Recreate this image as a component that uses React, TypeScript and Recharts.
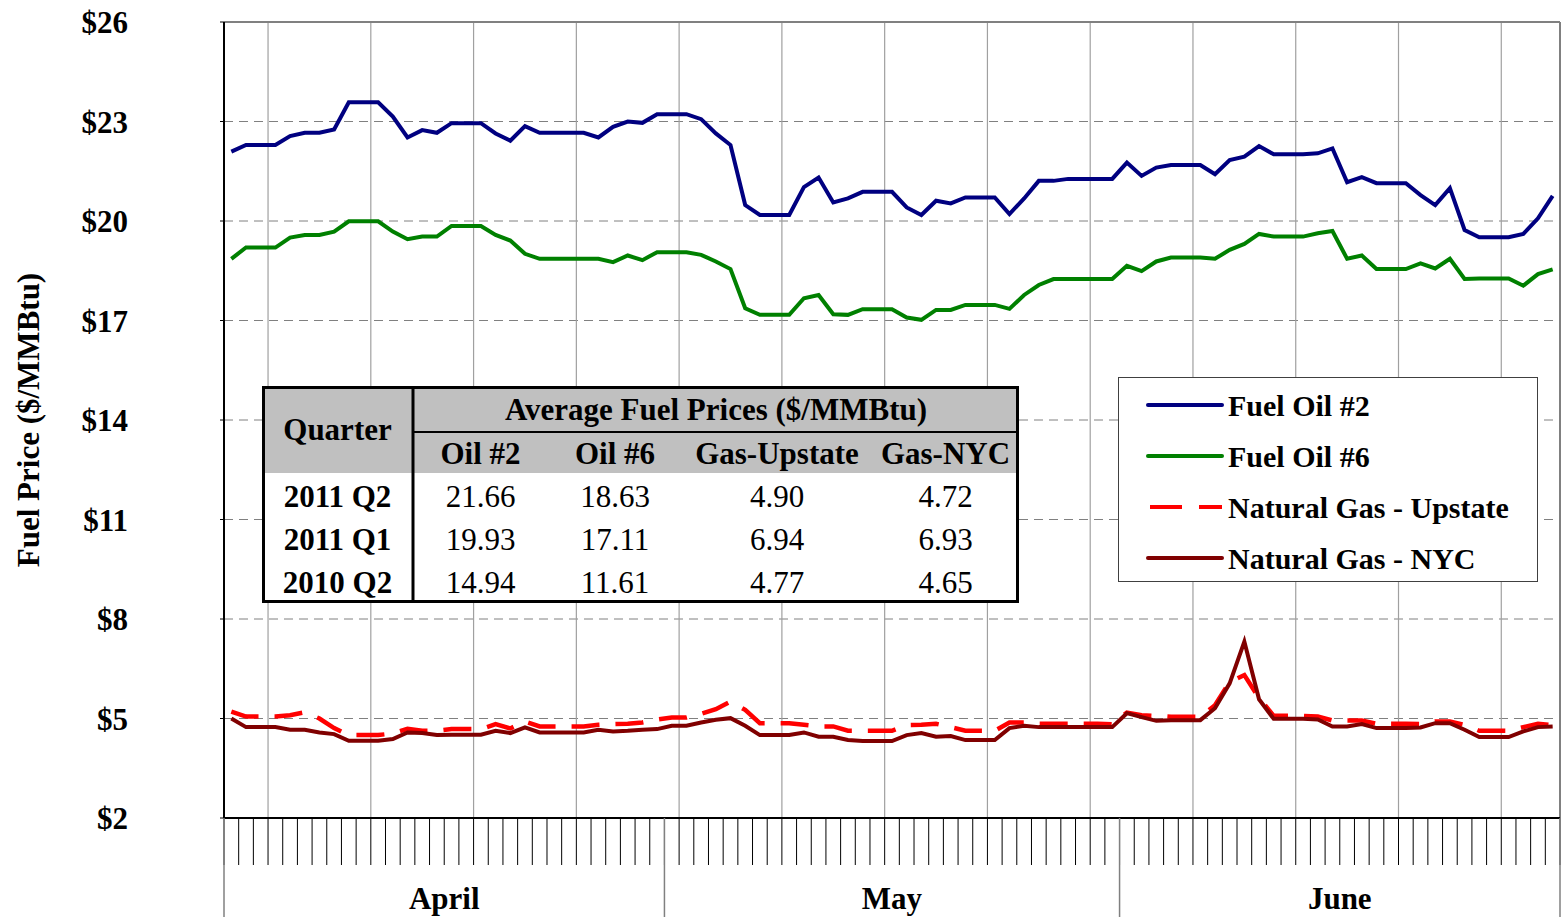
import { CartesianGrid, Line, LineChart, ReferenceLine, XAxis, YAxis } from "recharts";

const serif = '"Liberation Serif", "Times New Roman", Times, serif';

const monthNames = ["April", "May", "June"];
const monthLengths = [30, 31, 30];
// Mondays, counted in days from 1 April
const weekStarts = [3, 10, 17, 24, 31, 38, 45, 52, 59, 66, 73, 80, 87];
const priceTicks = [2, 5, 8, 11, 14, 17, 20, 23, 26];

// daily prices, $/MMBtu, 1 April - 30 June 2011
const fuelOil2 = [
  22.09, 22.29, 22.29, 22.29, 22.56, 22.66, 22.66, 22.76, 23.58, 23.58,
  23.58, 23.15, 22.52, 22.74, 22.66, 22.95, 22.95, 22.95, 22.64, 22.42,
  22.86, 22.66, 22.66, 22.66, 22.66, 22.52, 22.84, 23.0, 22.96, 23.22,
  23.22, 23.22, 23.07, 22.64, 22.29, 20.48, 20.18, 20.18, 20.18, 21.02,
  21.31, 20.56, 20.68, 20.88, 20.88, 20.88, 20.41, 20.18, 20.61, 20.53,
  20.71, 20.71, 20.71, 20.21, 20.68, 21.21, 21.21, 21.27, 21.27, 21.27,
  21.27, 21.76, 21.36, 21.61, 21.69, 21.69, 21.69, 21.41, 21.84, 21.94,
  22.26, 22.01, 22.01, 22.01, 22.04, 22.19, 21.17, 21.32, 21.14, 21.14,
  21.14, 20.78, 20.48, 20.99, 19.73, 19.51, 19.51, 19.51, 19.61, 20.08,
  20.76,
];
const fuelOil6 = [
  18.86, 19.2, 19.2, 19.2, 19.5, 19.58, 19.58, 19.68, 19.99, 19.99,
  19.99, 19.68, 19.45, 19.53, 19.53, 19.85, 19.85, 19.85, 19.58, 19.41,
  19.01, 18.86, 18.86, 18.86, 18.86, 18.86, 18.76, 18.96, 18.82, 19.06,
  19.06, 19.06, 18.98, 18.78, 18.55, 17.37, 17.17, 17.17, 17.17, 17.67,
  17.77, 17.19, 17.17, 17.34, 17.34, 17.34, 17.09, 17.02, 17.32, 17.32,
  17.47, 17.47, 17.47, 17.35, 17.77, 18.07, 18.25, 18.25, 18.25, 18.25,
  18.25, 18.65, 18.49, 18.78, 18.9, 18.9, 18.9, 18.86, 19.13, 19.31,
  19.61, 19.53, 19.53, 19.53, 19.63, 19.7, 18.86, 18.96, 18.55, 18.55,
  18.55, 18.72, 18.57, 18.86, 18.25, 18.27, 18.27, 18.27, 18.05, 18.4,
  18.54,
];
const gasUpstate = [
  5.21, 5.06, 5.06, 5.06, 5.1, 5.19, 5.0, 4.71, 4.5, 4.5,
  4.5, 4.55, 4.69, 4.63, 4.63, 4.68, 4.68, 4.68, 4.83, 4.7,
  4.91, 4.76, 4.76, 4.76, 4.76, 4.81, 4.83, 4.84, 4.88, 4.97,
  5.03, 5.03, 5.14, 5.28, 5.51, 5.26, 4.86, 4.86, 4.86, 4.81,
  4.76, 4.76, 4.63, 4.63, 4.63, 4.63, 4.8, 4.81, 4.84, 4.74,
  4.63, 4.63, 4.63, 4.88, 4.88, 4.84, 4.84, 4.84, 4.84, 4.84,
  4.83, 5.18, 5.1, 5.08, 5.05, 5.05, 5.05, 5.4, 6.1, 6.31,
  5.62, 5.08, 5.08, 5.08, 5.06, 4.94, 4.94, 4.94, 4.84, 4.84,
  4.84, 4.83, 4.91, 4.91, 4.81, 4.63, 4.63, 4.63, 4.74, 4.84,
  4.8,
];
const gasNyc = [
  5.0, 4.74, 4.74, 4.74, 4.66, 4.66, 4.58, 4.53, 4.33, 4.33,
  4.33, 4.38, 4.58, 4.56, 4.5, 4.51, 4.51, 4.51, 4.63, 4.56,
  4.73, 4.58, 4.58, 4.58, 4.58, 4.66, 4.61, 4.63, 4.66, 4.68,
  4.78, 4.78, 4.88, 4.96, 5.01, 4.78, 4.5, 4.5, 4.5, 4.58,
  4.45, 4.45, 4.35, 4.32, 4.32, 4.32, 4.5, 4.56, 4.45, 4.47,
  4.35, 4.35, 4.35, 4.71, 4.78, 4.74, 4.74, 4.74, 4.74, 4.74,
  4.74, 5.16, 5.04, 4.93, 4.95, 4.95, 4.95, 5.31, 6.06, 7.32,
  5.58, 4.99, 4.99, 4.99, 4.97, 4.76, 4.76, 4.83, 4.71, 4.71,
  4.71, 4.73, 4.86, 4.86, 4.66, 4.44, 4.44, 4.44, 4.61, 4.74,
  4.76,
];

// quarterly averages shown in the inset table
const quarters = ["2011 Q2", "2011 Q1", "2010 Q2"];
const tableHeads = ["Oil #2", "Oil #6", "Gas-Upstate", "Gas-NYC"];
const avgOil2 = [21.66, 19.93, 14.94];
const avgOil6 = [18.63, 17.11, 11.61];
const avgGasUpstate = [4.9, 6.94, 4.77];
const avgGasNyc = [4.72, 6.93, 4.65];

type Series = { key: string; name: string; color: string; values: number[]; dash?: string };

const series: Series[] = [
  { key: "oil2", name: "Fuel Oil #2", color: "#000080", values: fuelOil2 },
  { key: "oil6", name: "Fuel Oil #6", color: "#008000", values: fuelOil6 },
  { key: "gasUpstate", name: "Natural Gas - Upstate", color: "#ff0000", values: gasUpstate, dash: "28 16" },
  { key: "gasNyc", name: "Natural Gas - NYC", color: "#800000", values: gasNyc },
];

const dayLabels = monthNames.flatMap((m, mi) =>
  Array.from({ length: monthLengths[mi] }, (_, d) => `${m} ${d + 1}`)
);
const totalDays = dayLabels.length;

// each day sits in the middle of its own slot on the axis
const rows = dayLabels.map((day, i) => {
  const row: Record<string, number | string> = { day, t: i + 0.5 };
  series.forEach((s) => {
    row[s.key] = s.values[i];
  });
  return row;
});

const dayBounds = Array.from({ length: totalDays + 1 }, (_, i) => i);
const monthStarts = monthLengths.reduce<number[]>((acc, len) => [...acc, acc[acc.length - 1] + len], [0]);
const monthCenters = monthLengths.map((len, i) => monthStarts[i] + len / 2);

function DayTick({ x, y, payload }: any) {
  const isMonthEdge = monthStarts.includes(payload.value);
  return (
    <g>
      <line x1={x} x2={x} y1={y} y2={y + 47} stroke="#000" strokeWidth={1} />
      {isMonthEdge && <line x1={x} x2={x} y1={y} y2={y + 99} stroke="#808080" strokeWidth={1.5} />}
    </g>
  );
}

function MonthTick({ x, y, payload }: any) {
  const name = monthNames[monthCenters.indexOf(payload.value)];
  return (
    <text x={x} y={y + 44} textAnchor="middle" fill="#000" fontFamily={serif} fontSize={31} fontWeight={700}>
      {name}
    </text>
  );
}

function AxisTitle({ viewBox }: any) {
  const cy = viewBox.y + viewBox.height / 2;
  return (
    <text
      transform={`translate(28, ${cy}) rotate(-90)`}
      textAnchor="middle"
      dominantBaseline="central"
      fill="#000"
      fontFamily={serif}
      fontSize={31}
      fontWeight={700}
    >
      Fuel Price ($/MMBtu)
    </text>
  );
}

function FuelLegend() {
  return (
    <svg width={420} height={205} style={{ position: "absolute", left: 1118, top: 377 }}>
      <rect x={0.5} y={0.5} width={419} height={204} fill="#fff" stroke="#404040" strokeWidth={1} />
      {series.map((s, i) => {
        const cy = 28 + i * 51;
        return (
          <g key={s.key}>
            <line
              x1={s.dash ? 32 : 30}
              x2={104}
              y1={cy}
              y2={cy}
              stroke={s.color}
              strokeWidth={4}
              strokeLinecap={s.dash ? "butt" : "round"}
              strokeDasharray={s.dash ? "32 17" : undefined}
            />
            <text x={110} y={cy} dominantBaseline="central" fill="#000" fontFamily={serif} fontSize={30} fontWeight={700}>
              {s.name}
            </text>
          </g>
        );
      })}
    </svg>
  );
}

function AverageTable() {
  const colWidths = [151, 135, 134, 190, 147];
  const edges = colWidths.reduce<number[]>((acc, w) => [...acc, acc[acc.length - 1] + w], [0]);
  const mid = (i: number) => (edges[i] + edges[i + 1]) / 2;
  const width = edges[edges.length - 1];
  const height = 217;
  const headH = 87;
  const lineY = [110, 153, 196];
  const columns = [avgOil2, avgOil6, avgGasUpstate, avgGasNyc];
  const font = { fontFamily: serif, fontSize: 31, fill: "#000" };
  return (
    <svg width={width} height={height} style={{ position: "absolute", left: 262, top: 386 }}>
      <rect x={0} y={0} width={width} height={height} fill="#fff" />
      <rect x={0} y={0} width={width} height={headH} fill="#c0c0c0" />
      <line x1={edges[1]} x2={width} y1={46} y2={46} stroke="#000" strokeWidth={2} />
      <line x1={edges[1]} x2={edges[1]} y1={0} y2={height} stroke="#000" strokeWidth={3} />
      <rect x={1.5} y={1.5} width={width - 3} height={height - 3} fill="none" stroke="#000" strokeWidth={3} />
      <text x={mid(0)} y={headH / 2} textAnchor="middle" dominantBaseline="central" fontWeight={700} {...font}>
        Quarter
      </text>
      <text x={(edges[1] + width) / 2} y={23} textAnchor="middle" dominantBaseline="central" fontWeight={700} {...font}>
        Average Fuel Prices ($/MMBtu)
      </text>
      {tableHeads.map((h, i) => (
        <text key={h} x={mid(i + 1)} y={67} textAnchor="middle" dominantBaseline="central" fontWeight={700} {...font}>
          {h}
        </text>
      ))}
      {quarters.map((q, r) => (
        <g key={q}>
          <text x={mid(0)} y={lineY[r]} textAnchor="middle" dominantBaseline="central" fontWeight={700} {...font}>
            {q}
          </text>
          {columns.map((col, c) => (
            <text key={c} x={mid(c + 1)} y={lineY[r]} textAnchor="middle" dominantBaseline="central" {...font}>
              {col[r].toFixed(2)}
            </text>
          ))}
        </g>
      ))}
    </svg>
  );
}

export default function App() {
  return (
    <div style={{ position: "absolute", left: 0, top: 0, width: 1564, height: 917, background: "#fff" }}>
      <LineChart width={1564} height={917} data={rows} margin={{ top: 22, right: 4, bottom: 0, left: 0 }}>
        <CartesianGrid vertical={false} stroke="#808080" strokeDasharray="9 6" />
        {weekStarts.map((d) => (
          <ReferenceLine key={d} x={d} stroke="#a0a0a0" strokeWidth={1.2} />
        ))}
        <ReferenceLine y={26} stroke="#808080" strokeWidth={2} />
        <ReferenceLine x={totalDays} stroke="#808080" strokeWidth={2} />
        <XAxis
          dataKey="t"
          type="number"
          domain={[0, totalDays]}
          ticks={dayBounds}
          interval={0}
          height={47}
          tickSize={0}
          tickMargin={0}
          tickLine={false}
          axisLine={{ stroke: "#000", strokeWidth: 2 }}
          tick={<DayTick />}
        />
        <XAxis
          xAxisId="month"
          dataKey="t"
          type="number"
          domain={[0, totalDays]}
          ticks={monthCenters}
          interval={0}
          height={52}
          tickSize={0}
          tickMargin={0}
          tickLine={false}
          axisLine={false}
          tick={<MonthTick />}
        />
        <YAxis
          type="number"
          domain={[2, 26]}
          ticks={priceTicks}
          interval={0}
          width={224}
          stroke="#000"
          tickSize={4}
          tickMargin={92}
          tickFormatter={(v) => `$${v}`}
          tick={{ fill: "#000", fontSize: 31, fontWeight: 700, fontFamily: serif }}
          axisLine={{ stroke: "#000", strokeWidth: 2 }}
          tickLine={{ stroke: "#000" }}
          label={<AxisTitle />}
        />
        {series.map((s) => (
          <Line
            key={s.key}
            type="linear"
            dataKey={s.key}
            name={s.name}
            stroke={s.color}
            strokeWidth={s.dash ? 4.5 : 4}
            strokeDasharray={s.dash}
            dot={false}
            activeDot={false}
            isAnimationActive={false}
          />
        ))}
      </LineChart>
      <AverageTable />
      <FuelLegend />
    </div>
  );
}
